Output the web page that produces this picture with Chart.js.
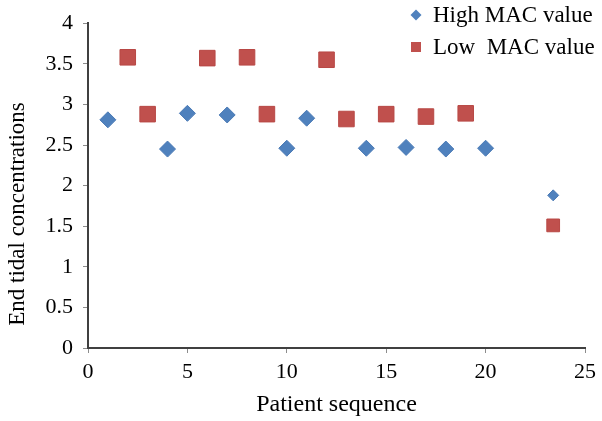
<!DOCTYPE html>
<html>
<head>
<meta charset="utf-8">
<script src="https://cdn.jsdelivr.net/npm/chart.js@4.4.0/dist/chart.umd.min.js"></script>
<style>
  html, body { margin: 0; padding: 0; background: #fff; }
  #wrap { width: 602px; height: 421px; }
</style>
</head>
<body>
<div id="wrap"><canvas id="chart"></canvas></div>
<script>
// Values
const highX = [1, 4, 5, 7, 10, 11, 14, 16, 18, 20, 23.4];
const highY = [2.81, 2.45, 2.89, 2.87, 2.46, 2.83, 2.46, 2.47, 2.45, 2.46, 1.88];
const lowX = [2, 3, 6, 8, 9, 12, 13, 15, 17, 19, 23.4];
const lowY = [3.58, 2.88, 3.57, 3.58, 2.88, 3.55, 2.82, 2.88, 2.85, 2.89, 1.51];
const seriesLabels = ['High MAC value', 'Low  MAC value'];
const xTicks = [0, 5, 10, 15, 20, 25];
const yTicks = [0, 0.5, 1, 1.5, 2, 2.5, 3, 3.5, 4];
const xTitle = 'Patient sequence';
const yTitle = 'End tidal concentrations';

const FONT = '"Liberation Serif", "Times New Roman", serif';
const BLUE = '#4F81BD';
const RED = '#C0504D';

function toPoints(xs, ys) {
    return xs.map((x, i) => ({ x: x, y: ys[i] }));
}

// legend inside the plot (top right) + y title sitting a bit low like the original
const extrasPlugin = {
    id: 'extras',
    afterDraw(chart) {
        const ctx = chart.ctx;
        ctx.save();
        ctx.font = '23px ' + FONT;
        ctx.textBaseline = 'middle';

        const rows = [15, 47];
        chart.data.datasets.forEach((ds, i) => {
            const y = rows[i];
            const cx = 416;
            ctx.fillStyle = ds.backgroundColor;
            ctx.beginPath();
            if (ds.pointStyle === 'rectRot') {
                const r = 5.5;
                ctx.moveTo(cx - r, y);
                ctx.lineTo(cx, y - r);
                ctx.lineTo(cx + r, y);
                ctx.lineTo(cx, y + r);
                ctx.closePath();
            } else {
                ctx.rect(cx - 5, y - 5, 10, 10);
            }
            ctx.fill();
            ctx.fillStyle = '#000';
            ctx.textAlign = 'left';
            ctx.fillText(ds.label, 433, y + 1);
        });

        // y axis title
        ctx.translate(18, 214);
        ctx.rotate(-Math.PI / 2);
        ctx.textAlign = 'center';
        ctx.fillText(yTitle, 0, 0);
        ctx.restore();
    }
};

new Chart(document.getElementById('chart'), {
    type: 'scatter',
    data: {
        datasets: [
            {
                label: seriesLabels[0],
                data: toPoints(highX, highY),
                pointStyle: 'rectRot',
                backgroundColor: BLUE,
                borderColor: '#4A7AB5',
                borderWidth: 1,
                pointRadius: ctx => ctx.dataIndex === highX.length - 1 ? 5.5 : 8
            },
            {
                label: seriesLabels[1],
                data: toPoints(lowX, lowY),
                pointStyle: 'rect',
                backgroundColor: RED,
                borderColor: '#B84845',
                borderWidth: 1,
                pointRadius: ctx => ctx.dataIndex === lowX.length - 1 ? 9 : 11
            }
        ]
    },
    options: {
        responsive: true,
        maintainAspectRatio: false,
        animation: false,
        layout: { padding: { top: 12, right: 14, left: 0, bottom: 0 } },
        plugins: {
            legend: { display: false },
            tooltip: { enabled: false }
        },
        scales: {
            x: {
                type: 'linear',
                min: 0,
                max: 25,
                afterBuildTicks: s => { s.ticks = xTicks.map(v => ({ value: v })); },
                afterFit: s => { s.height = 73; },
                grid: { drawOnChartArea: false, drawTicks: true, tickLength: 5, color: '#8c8c8c' },
                border: { display: true, color: '#404040', width: 2 },
                ticks: { color: '#000', padding: 6, font: { family: FONT, size: 22 }, callback: v => String(v) },
                title: { display: true, text: xTitle, color: '#000', padding: { top: 0, bottom: 2 }, font: { family: FONT, size: 24 } }
            },
            y: {
                type: 'linear',
                min: 0,
                max: 4,
                afterBuildTicks: s => { s.ticks = yTicks.map(v => ({ value: v })); },
                afterFit: s => { s.width = 88; },
                grid: { drawOnChartArea: false, drawTicks: true, tickLength: 5, color: '#8c8c8c' },
                border: { display: true, color: '#404040', width: 2 },
                ticks: { color: '#000', padding: 10, font: { family: FONT, size: 22 }, callback: v => String(v) }
            }
        }
    },
    plugins: [extrasPlugin]
});
</script>
</body>
</html>
